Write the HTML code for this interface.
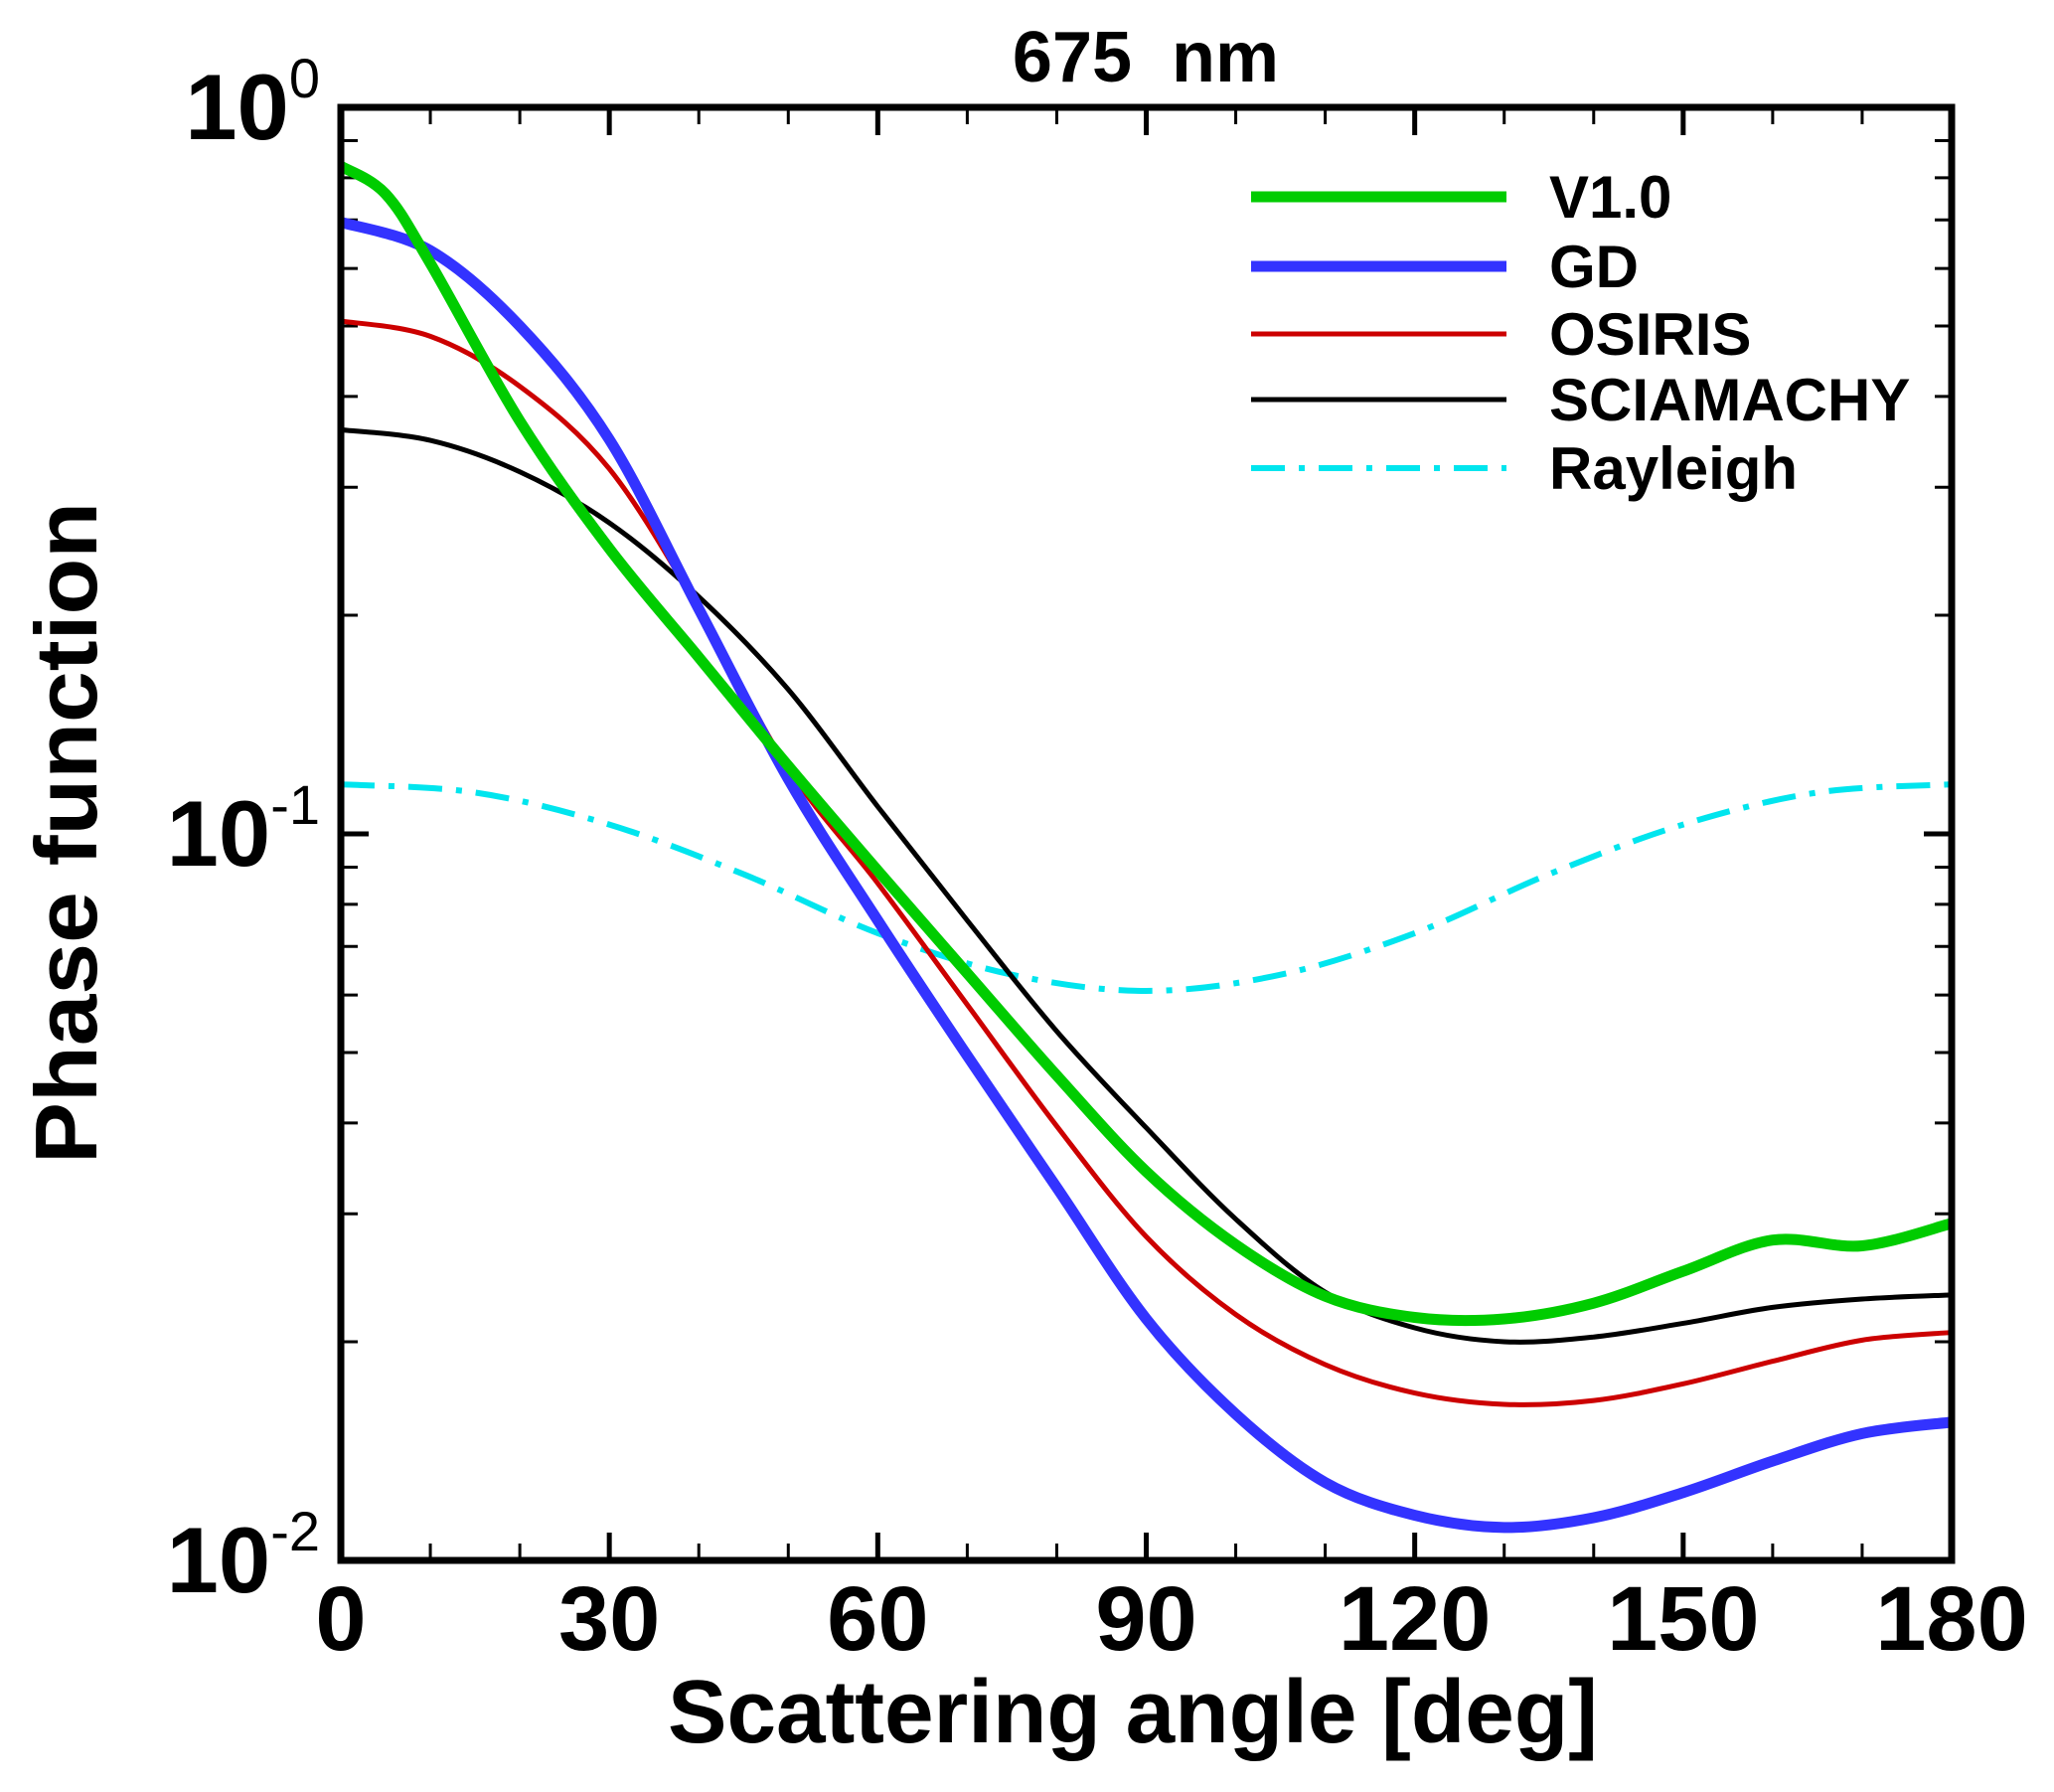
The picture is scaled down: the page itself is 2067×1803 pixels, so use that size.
<!DOCTYPE html>
<html><head><meta charset="utf-8"><style>
html,body{margin:0;padding:0;background:#fff;}
svg{display:block;font-family:"Liberation Sans",Arial,sans-serif;font-weight:bold;}
text{font-family:"Liberation Sans",Arial,sans-serif;}
</style></head><body>
<svg id="chart" width="2067" height="1803" viewBox="0 0 2067 1803">
<g id="ticks"></g>
<g id="series"></g>
<rect x="343" y="108" width="1621" height="1462" fill="none" stroke="#000" stroke-width="7"/>
<text x="1153" y="82" font-size="72" text-anchor="middle" style="white-space:pre">675  nm</text>
<text x="1140" y="1753" font-size="90" text-anchor="middle" textLength="936" lengthAdjust="spacingAndGlyphs">Scattering angle [deg]</text>
<text transform="translate(97,838) rotate(-90)" font-size="88" text-anchor="middle" textLength="666" lengthAdjust="spacingAndGlyphs">Phase function</text>
<g id="ylabels"></g>
<g id="xlabels"></g>
<g id="legend"></g>
</svg>
<script>
const angles = [0,10,20,30,40,50,60,70,80,90,100,110,120,130,140,150,160,170,180];
const greenAngles = [0,5,10,20,30,40,50,60,70,80,90,100,110,120,130,140,150,160,170,180];
const v10 = [0.83,0.76,0.61,0.37,0.247,0.175,0.124,0.089,0.0643,0.0465,0.0343,0.0272,0.0231,0.0216,0.0215,0.0226,0.025,0.0276,0.0271,0.0291];
const gd = [0.695,0.635,0.50,0.349,0.204,0.119,0.076,0.0495,0.0326,0.0215,0.0159,0.0128,0.01154,0.0111,0.01145,0.0124,0.0137,0.01495,0.0155];
const osiris = [0.508,0.484,0.413,0.318,0.204,0.123,0.0855,0.0582,0.0396,0.0279,0.0218,0.0186,0.0170,0.0164,0.0166,0.0175,0.0188,0.0201,0.0206];
const sciamachy = [0.36,0.348,0.315,0.268,0.212,0.158,0.109,0.076,0.0535,0.0394,0.0295,0.0234,0.0209,0.0200,0.0203,0.0212,0.0223,0.0229,0.0232];
const rayAngles = [0,15,30,45,60,75,90,105,120,135,150,165,180];
const rayleigh = [0.117,0.114,0.103,0.088,0.073,0.064,0.0608,0.064,0.073,0.088,0.103,0.114,0.117];
const xTickLabels = ["0","30","60","90","120","150","180"];
const yTickExps = ["0","-1","-2"];

const NS="http://www.w3.org/2000/svg";
const L=343,R=1964,T=108,B=1570;
const xs=a=>L+(a/180)*(R-L);
const ys=v=>T+(-Math.log10(v)/2)*(B-T);
function mk(tag,attrs,parent){const e=document.createElementNS(NS,tag);for(const k in attrs)e.setAttribute(k,attrs[k]);parent.appendChild(e);return e;}
function path(pts){let d="M"+pts[0][0]+","+pts[0][1];for(let i=0;i<pts.length-1;i++){const p0=pts[Math.max(0,i-1)],p1=pts[i],p2=pts[i+1],p3=pts[Math.min(pts.length-1,i+2)];
d+=" C"+(p1[0]+(p2[0]-p0[0])/6)+","+(p1[1]+(p2[1]-p0[1])/6)+" "+(p2[0]-(p3[0]-p1[0])/6)+","+(p2[1]-(p3[1]-p1[1])/6)+" "+p2[0]+","+p2[1];}return d;}

const tg=document.getElementById('ticks');
for(let a=0;a<=180;a+=10){const maj=a%30===0,len=maj?28:17,x=xs(a);
 const t1=mk('line',{x1:x,x2:x,y1:B,y2:B-len,stroke:'#000','stroke-width':maj?5:3},tg);
 
 
 const t2=mk('line',{x1:x,x2:x,y1:T,y2:T+len,stroke:'#000','stroke-width':maj?5:3},tg);
 
 }
for(let e=-2;e<0;e++)for(let m=1;m<=10;m++){const v=m*Math.pow(10,e);const y=ys(v);const maj=(m===1||m===10);const len=maj?28:17;
 const t1=mk('line',{x1:L,x2:L+len,y1:y,y2:y,stroke:'#000','stroke-width':maj?5:3},tg);
 
 
 const t2=mk('line',{x1:R,x2:R-len,y1:y,y2:y,stroke:'#000','stroke-width':maj?5:3},tg);
 
 }

const xl=document.getElementById('xlabels');
xTickLabels.forEach(s=>{const t=mk('text',{x:xs(+s),y:1660,'font-size':92,'text-anchor':'middle'},xl);t.textContent=s;
 
 });
const yl=document.getElementById('ylabels');
yTickExps.forEach(s=>{const y=ys(Math.pow(10,+s));const t=mk('text',{x:322,y:y+32,'font-size':94,'text-anchor':'end'},yl);
 const a=mk('tspan',{},t);a.textContent='10';
 const b=mk('tspan',{dy:-42,'font-size':56,'font-weight':'normal'},t);b.textContent=s;
 
 });

const sg=document.getElementById('series');
const series=[
 {name:'V1.0',x:greenAngles,y:v10,color:'#00cc00',w:11,dash:null},
 {name:'GD',x:angles,y:gd,color:'#3333ff',w:11,dash:null},
 {name:'OSIRIS',x:angles,y:osiris,color:'#cc0000',w:5,dash:null},
 {name:'SCIAMACHY',x:angles,y:sciamachy,color:'#000',w:5,dash:null},
 {name:'Rayleigh',x:rayAngles,y:rayleigh,color:'#00e5ee',w:6,dash:'34,14,6,14'}];
const order=[4,3,2,1,0];
order.forEach(i=>{const s=series[i];const pts=s.x.map((a,j)=>[xs(a),ys(s.y[j])]);
 const p=mk('path',{d:path(pts),fill:'none',stroke:s.color,'stroke-width':s.w,'stroke-linecap':'butt'},sg);
 if(s.dash)p.setAttribute('stroke-dasharray',s.dash);
 
 });

const lg=document.getElementById('legend');
const ly=[198,268,336,402,471];
series.forEach((s,i)=>{const l=mk('line',{x1:1259,x2:1516,y1:ly[i],y2:ly[i],stroke:s.color,'stroke-width':s.w},lg);
 if(s.dash)l.setAttribute('stroke-dasharray',s.dash);
 
 
 const t=mk('text',{x:1559,y:ly[i]+21,'font-size':60},lg);t.textContent=s.name;
 
 });
</script>
</body></html>
